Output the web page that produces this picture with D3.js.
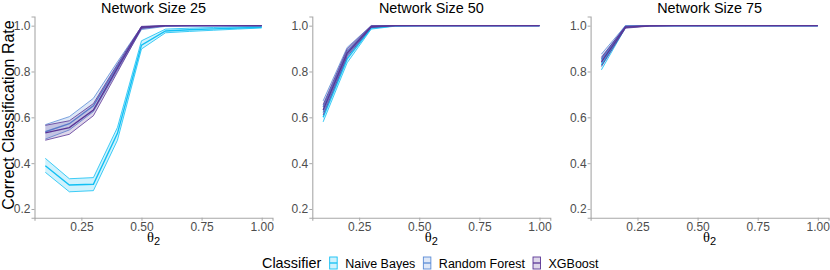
<!DOCTYPE html>
<html><head><meta charset="utf-8">
<script src="https://cdn.jsdelivr.net/npm/d3@7"></script>
<style>body{margin:0;background:#fff}svg{display:block}</style>
</head><body>
<svg id="chart" width="830" height="270"></svg>
<script>
// ---------- data ----------
const theta = [0.1,0.2,0.3,0.4,0.5,0.6,0.7,0.8,0.9,1.0];
const panels = ["Network Size 25","Network Size 50","Network Size 75"];
const classifiers = ["Naive Bayes","Random Forest","XGBoost"];
const colors = ["#12c0f4","#5a8bd6","#5a3596"];
const xTicks = [0.25,0.50,0.75,1.00];
const yTicks = [0.2,0.4,0.6,0.8,1.0];

// Network size 25
const nb25Mean = [0.389,0.305,0.308,0.530,0.915,0.977,0.982,0.986,0.990,0.993];
const nb25Lo   = [0.360,0.275,0.280,0.500,0.898,0.969,0.975,0.980,0.985,0.990];
const nb25Hi   = [0.421,0.332,0.337,0.556,0.934,0.985,0.989,0.992,0.995,0.997];
const rf25Mean = [0.537,0.572,0.650,0.825,0.990,0.999,1.000,1.000,1.000,1.000];
const rf25Lo   = [0.505,0.545,0.625,0.805,0.983,0.997,0.999,1.000,1.000,1.000];
const rf25Hi   = [0.568,0.603,0.683,0.842,0.996,1.000,1.000,1.000,1.000,1.000];
const xg25Mean = [0.532,0.555,0.632,0.815,0.993,1.000,1.000,1.000,1.000,1.000];
const xg25Lo   = [0.500,0.526,0.607,0.797,0.988,0.999,1.000,1.000,1.000,1.000];
const xg25Hi   = [0.565,0.585,0.660,0.832,0.997,1.000,1.000,1.000,1.000,1.000];
// Network size 50
const nb50Mean = [0.600,0.855,0.990,0.999,1.000,1.000,1.000,1.000,1.000,1.000];
const nb50Lo   = [0.580,0.838,0.985,0.998,1.000,1.000,1.000,1.000,1.000,1.000];
const nb50Hi   = [0.622,0.872,0.995,1.000,1.000,1.000,1.000,1.000,1.000,1.000];
const rf50Mean = [0.645,0.888,0.997,1.000,1.000,1.000,1.000,1.000,1.000,1.000];
const rf50Lo   = [0.622,0.872,0.993,1.000,1.000,1.000,1.000,1.000,1.000,1.000];
const rf50Hi   = [0.672,0.905,1.000,1.000,1.000,1.000,1.000,1.000,1.000,1.000];
const xg50Mean = [0.632,0.880,0.996,1.000,1.000,1.000,1.000,1.000,1.000,1.000];
const xg50Lo   = [0.610,0.865,0.992,1.000,1.000,1.000,1.000,1.000,1.000,1.000];
const xg50Hi   = [0.655,0.898,1.000,1.000,1.000,1.000,1.000,1.000,1.000,1.000];
// Network size 75
const nb75Mean = [0.828,0.995,1.000,1.000,1.000,1.000,1.000,1.000,1.000,1.000];
const nb75Lo   = [0.807,0.991,1.000,1.000,1.000,1.000,1.000,1.000,1.000,1.000];
const nb75Hi   = [0.850,0.998,1.000,1.000,1.000,1.000,1.000,1.000,1.000,1.000];
const rf75Mean = [0.855,0.998,1.000,1.000,1.000,1.000,1.000,1.000,1.000,1.000];
const rf75Lo   = [0.838,0.995,1.000,1.000,1.000,1.000,1.000,1.000,1.000,1.000];
const rf75Hi   = [0.876,1.000,1.000,1.000,1.000,1.000,1.000,1.000,1.000,1.000];
const xg75Mean = [0.842,0.993,0.999,1.000,1.000,1.000,1.000,1.000,1.000,1.000];
const xg75Lo   = [0.822,0.989,0.998,1.000,1.000,1.000,1.000,1.000,1.000,1.000];
const xg75Hi   = [0.862,0.997,1.000,1.000,1.000,1.000,1.000,1.000,1.000,1.000];

const panelData = [
  [[nb25Mean,nb25Lo,nb25Hi],[rf25Mean,rf25Lo,rf25Hi],[xg25Mean,xg25Lo,xg25Hi]],
  [[nb50Mean,nb50Lo,nb50Hi],[rf50Mean,rf50Lo,rf50Hi],[xg50Mean,xg50Lo,xg50Hi]],
  [[nb75Mean,nb75Lo,nb75Hi],[rf75Mean,rf75Lo,rf75Hi],[xg75Mean,xg75Lo,xg75Hi]]
];

// ---------- layout ----------
const svg = d3.select("#chart");
const panelLeft = [34.5, 312.3, 590.6];
const panelW = 238;
const plotTop = 16.5, plotBottom = 217.7;
const y = d3.scaleLinear().domain([0.162,1.040]).range([plotBottom, plotTop]);
const sans = "'Liberation Sans', Arial, sans-serif";
const axisCol = "#a8a8a8", tickTextCol = "#4d4d4d";

panels.forEach((title, p) => {
  const x0 = panelLeft[p];
  const x = d3.scaleLinear().domain([0.055,1.045]).range([x0, x0 + panelW]);
  const g = svg.append("g");

  // series
  panelData[p].forEach((s, ci) => {
    const [mean, lo, hi] = s;
    const pts = theta.map((t,i) => ({t, m: mean[i], lo: lo[i], hi: hi[i]}));
    const col = colors[ci];
    g.append("path").datum(pts)
      .attr("d", d3.area().x(d => x(d.t)).y0(d => y(d.lo)).y1(d => y(d.hi)))
      .attr("fill", col).attr("fill-opacity", 0.2);
    ["lo","hi"].forEach(k => {
      g.append("path").datum(pts)
        .attr("d", d3.line().x(d => x(d.t)).y(d => y(d[k])))
        .attr("fill","none").attr("stroke", col).attr("stroke-width", 0.8);
    });
    g.append("path").datum(pts)
      .attr("d", d3.line().x(d => x(d.t)).y(d => y(d.m)))
      .attr("fill","none").attr("stroke", col).attr("stroke-width", 1.4);
  });

  // axes
  const xAxis = d3.axisBottom(x).tickValues(xTicks).tickFormat(d3.format(".2f")).tickSize(3).tickPadding(1.5);
  const gx = svg.append("g").attr("transform", `translate(0,${plotBottom})`).call(xAxis);
  const yAxis = d3.axisLeft(y).tickValues(yTicks).tickFormat(d3.format(".1f")).tickSize(3).tickPadding(1);
  const gy = svg.append("g").attr("transform", `translate(${x0},0)`).call(yAxis);
  [gx, gy].forEach(a => {
    a.select(".domain").attr("stroke", axisCol).attr("stroke-width", 1.1);
    a.selectAll(".tick line").attr("stroke", axisCol);
    a.selectAll(".tick text").attr("fill", tickTextCol).style("font-family", sans).style("font-size", "12px");
  });

  // panel title
  svg.append("text").attr("x", x0 + panelW/2).attr("y", 13)
    .attr("text-anchor","middle").style("font-family", sans).style("font-size","14.4px")
    .attr("fill","#000").text(title);

  // x title θ2
  const xt = svg.append("text").attr("x", x0 + panelW/2).attr("y", 242)
    .attr("text-anchor","middle").attr("fill","#000");
  xt.append("tspan").style("font-family","'Liberation Serif', serif").style("font-size","14.5px").text("θ");
  xt.append("tspan").attr("dy", 2.5).style("font-family", sans).style("font-size","11px").text("2");
});

// y title
svg.append("text").attr("transform","translate(13.5,115) rotate(-90)")
  .attr("text-anchor","middle").style("font-family", sans).style("font-size","16px")
  .attr("fill","#000").text("Correct Classification Rate");

// ---------- legend ----------
const lg = svg.append("g");
let lx = 262;
const ly = 268;
const lt = lg.append("text").attr("x", lx).attr("y", ly)
  .style("font-family", sans).style("font-size","14.4px").attr("fill","#000").text("Classifier");
lx += lt.node().getComputedTextLength() + 8.5;
classifiers.forEach((c, i) => {
  const col = colors[i];
  lg.append("rect").attr("x", lx).attr("y", 257).attr("width", 7.5).attr("height", 12)
    .attr("fill", col).attr("fill-opacity", 0.2).attr("stroke", col).attr("stroke-width", 0.9);
  lg.append("line").attr("x1", lx).attr("x2", lx + 7.5).attr("y1", 263).attr("y2", 263)
    .attr("stroke", col).attr("stroke-width", 1.3);
  const t = lg.append("text").attr("x", lx + 15.5).attr("y", ly - 0.5)
    .style("font-family", sans).style("font-size","12.5px").attr("fill","#000").text(c);
  lx += 15.5 + t.node().getComputedTextLength() + 8;
});
</script>
</body></html>
